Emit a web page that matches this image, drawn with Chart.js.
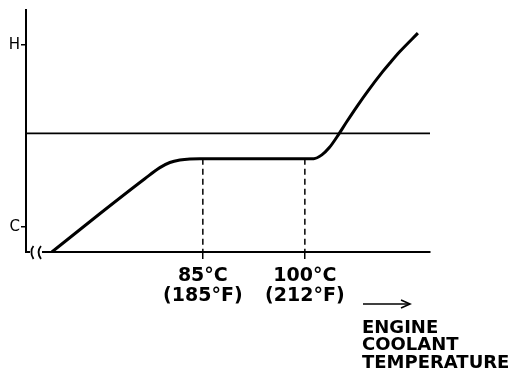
<!DOCTYPE html>
<html>
<head>
<meta charset="utf-8">
<script src="https://cdn.jsdelivr.net/npm/chart.js@4.4.1/dist/chart.umd.min.js"></script>
<style>
  body { margin: 0; background: #fff; }
  #wrap { width: 517px; height: 383px; position: relative; }
</style>
</head>
<body>
<div id="wrap"><canvas id="gaugeChart"></canvas></div>
<script>
// Gauge needle position vs. engine coolant temperature (C = 0, H = 100)
const tempC = [62.8, 69.85, 76.47, 78.68, 80.15, 81.62, 83.09, 84.56, 93.4, 101.3, 102.5, 103.6, 104.71, 106.18, 107.65, 109.26, 111.47, 112.5, 113.97, 116.62];
const gauge = [-13.7, 7.3, 26.5, 32.6, 35.4, 36.8, 37.4, 37.5, 37.5, 37.5, 39.6, 43.6, 49.4, 57.9, 66.1, 74.6, 85.4, 90.0, 96.3, 106.4];

const tickTemps = [85, 100];
const tickCelsius = ['85°C', '100°C'];
const tickFahrenheit = ['(185°F)', '(212°F)'];

const gaugeTicks = [0, 100];
const gaugeLabels = ['C', 'H'];

const midLevel = 51.4;
const plateauLevel = 37.5;
const titleLines = ['ENGINE', 'COOLANT', 'TEMPERATURE'];

const tickFont = { family: "'DejaVu Sans', sans-serif", size: 19, weight: 'bold', lineHeight: '20px' };

// dashed drop lines, axis break, arrow and axis title
const extras = {
    id: 'extras',
    afterDraw(chart) {
        const { ctx, chartArea } = chart;
        const xs = chart.scales.x, ys = chart.scales.y;
        const bottom = chartArea.bottom;
        ctx.save();
        ctx.strokeStyle = '#000';
        ctx.lineWidth = 1.5;
        ctx.setLineDash([6, 4]);
        tickTemps.forEach(t => {
            const px = xs.getPixelForValue(t);
            ctx.beginPath();
            ctx.moveTo(px, ys.getPixelForValue(plateauLevel));
            ctx.lineTo(px, bottom);
            ctx.stroke();
        });
        ctx.setLineDash([]);

        // axis break
        const bx = chartArea.left;
        ctx.fillStyle = '#fff';
        ctx.fillRect(bx + 4, bottom - 3, 12, 6);
        ctx.lineWidth = 1.8;
        ctx.beginPath();
        ctx.moveTo(bx + 7.5, bottom - 6);
        ctx.quadraticCurveTo(bx + 5, bottom - 3, bx + 5.5, bottom);
        ctx.quadraticCurveTo(bx + 5, bottom + 3, bx + 7.5, bottom + 7);
        ctx.stroke();
        ctx.beginPath();
        ctx.moveTo(bx + 15, bottom - 6);
        ctx.quadraticCurveTo(bx + 10, bottom, bx + 15, bottom + 7);
        ctx.stroke();

        // arrow
        const ax = chartArea.right - 67, ay = 304;
        ctx.lineWidth = 1.6;
        ctx.beginPath();
        ctx.moveTo(ax, ay);
        ctx.lineTo(ax + 46, ay);
        ctx.stroke();
        ctx.beginPath();
        ctx.moveTo(ax + 38, ay - 4);
        ctx.lineTo(ax + 47, ay);
        ctx.lineTo(ax + 38, ay + 4);
        ctx.stroke();

        ctx.fillStyle = '#000';
        ctx.font = "bold 18px 'DejaVu Sans', sans-serif";
        ctx.textAlign = 'left';
        ctx.textBaseline = 'middle';
        titleLines.forEach((line, i) => {
            ctx.fillText(line, chartArea.right - 68, 328 + i * 17.5);
        });
        ctx.restore();
    }
};

const ctx = document.getElementById('gaugeChart').getContext('2d');
new Chart(ctx, {
    type: 'line',
    data: {
        datasets: [{
            data: tempC.map((t, i) => ({ x: t, y: gauge[i] })),
            borderColor: '#000',
            borderWidth: 3,
            pointRadius: 0,
            cubicInterpolationMode: 'monotone'
        }, {
            data: [{ x: 59, y: midLevel }, { x: 118.4, y: midLevel }],
            borderColor: '#000',
            borderWidth: 1.6,
            pointRadius: 0
        }]
    },
    options: {
        responsive: true,
        maintainAspectRatio: false,
        animation: false,
        layout: { padding: { left: 0, top: 10, right: 87, bottom: 0 } },
        plugins: {
            legend: { display: false },
            tooltip: { enabled: false }
        },
        scales: {
            x: {
                type: 'linear',
                min: 59,
                max: 118.4,
                afterFit(scale) { scale.height = 131; },
                afterBuildTicks(scale) { scale.ticks = tickTemps.map(v => ({ value: v })); },
                border: { display: true, color: '#000', width: 2 },
                grid: { drawOnChartArea: false, tickLength: 7, color: '#000', lineWidth: 1.5 },
                ticks: {
                    color: '#000',
                    font: tickFont,
                    padding: 7,
                    maxRotation: 0,
                    callback: v => {
                        const i = tickTemps.indexOf(v);
                        return i < 0 ? '' : [tickCelsius[i], tickFahrenheit[i]];
                    }
                }
            },
            y: {
                min: -13.7,
                max: 119.1,
                afterFit(scale) { scale.width = 26; },
                afterBuildTicks(scale) { scale.ticks = gaugeTicks.map(v => ({ value: v })); },
                border: { display: true, color: '#000', width: 2 },
                grid: { drawOnChartArea: false, tickLength: 5, color: '#000', lineWidth: 1.5 },
                ticks: {
                    color: '#000',
                    font: { family: "'DejaVu Sans', sans-serif", size: 15 },
                    padding: 1,
                    callback: v => {
                        const i = gaugeTicks.indexOf(v);
                        return i < 0 ? '' : gaugeLabels[i];
                    }
                }
            }
        }
    },
    plugins: [extras]
});
</script>
</body>
</html>
